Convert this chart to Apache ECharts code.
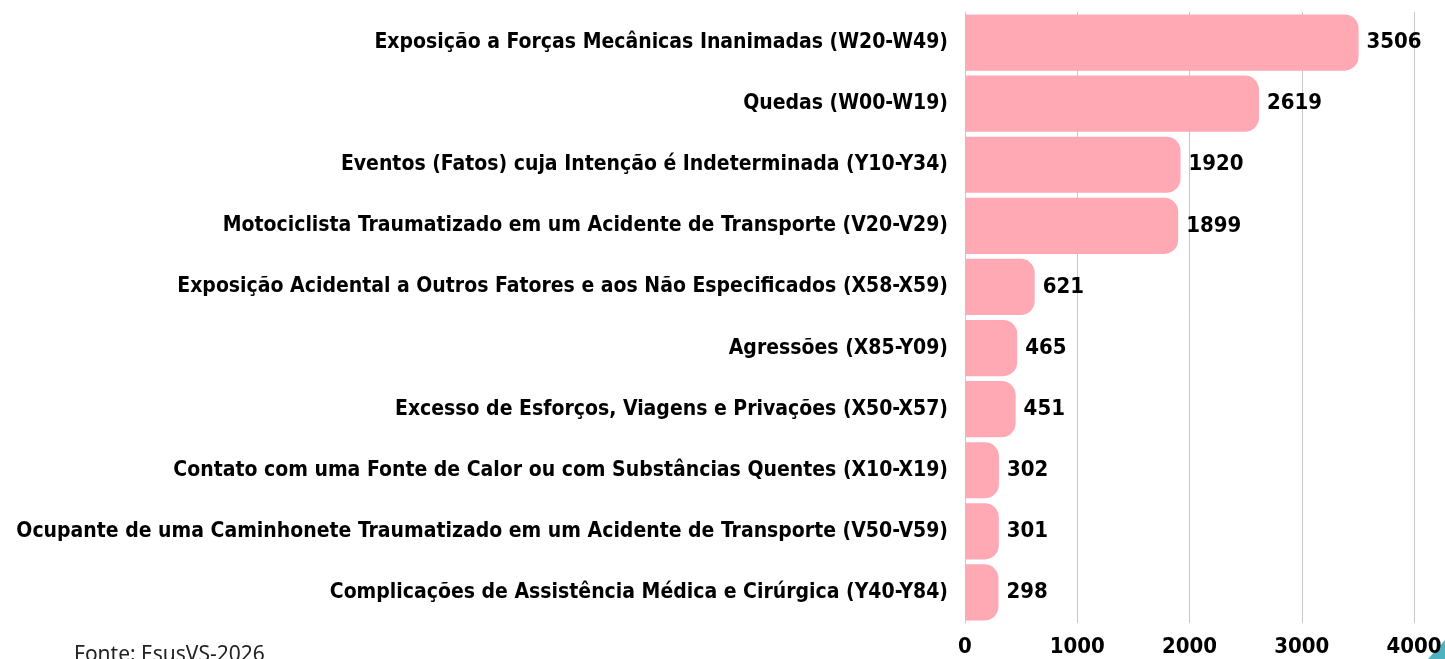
<!DOCTYPE html>
<html>
<head>
<meta charset="utf-8">
<script src="https://cdn.jsdelivr.net/npm/echarts@6/dist/echarts.min.js"></script>
<style>
    html, body { margin: 0; padding: 0; background: #fff; }
    #chart { width: 1445px; height: 659px; }
</style>
</head>
<body>
<div id="chart"></div>
<script>
// categorias (de baixo para cima, como o eixo y do echarts desenha)
var categories = [
    'Complicações de Assistência Médica e Cirúrgica (Y40-Y84)',
    'Ocupante de uma Caminhonete Traumatizado em um Acidente de Transporte (V50-V59)',
    'Contato com uma Fonte de Calor ou com Substâncias Quentes (X10-X19)',
    'Excesso de Esforços, Viagens e Privações (X50-X57)',
    'Agressões (X85-Y09)',
    'Exposição Acidental a Outros Fatores e aos Não Especificados (X58-X59)',
    'Motociclista Traumatizado em um Acidente de Transporte (V20-V29)',
    'Eventos (Fatos) cuja Intenção é Indeterminada (Y10-Y34)',
    'Quedas (W00-W19)',
    'Exposição a Forças Mecânicas Inanimadas (W20-W49)'
];
var values = [298, 301, 302, 451, 465, 621, 1899, 1920, 2619, 3506];
var xTicks = [0, 1000, 2000, 3000, 4000];

var FONT = '"Liberation Sans Narrow", "DejaVu Sans Condensed", sans-serif';

var myChart = echarts.init(document.getElementById('chart'));
var option = {
    animation: false,
    grid: {
        left: 965,
        right: 31,
        top: 12,
        bottom: 36,
        containLabel: false,
        outerBoundsMode: 'none'
    },
    xAxis: {
        type: 'value',
        min: xTicks[0],
        max: xTicks[xTicks.length - 1],
        interval: 1000,
        axisLine: { show: false },
        axisTick: { show: false },
        splitLine: { show: true, lineStyle: { color: '#c8c8c8', width: 1 } },
        axisLabel: {
            color: '#000',
            fontFamily: FONT,
            fontWeight: 'bold',
            fontSize: 22,
            margin: 13,
            formatter: function (v) { return String(v); }
        }
    },
    yAxis: {
        type: 'category',
        data: categories,
        axisLine: { show: true, lineStyle: { color: '#c8c8c8' } },
        axisTick: { show: false },
        axisLabel: {
            color: '#000',
            fontFamily: FONT,
            fontWeight: 'bold',
            fontSize: 21,
            margin: 17
        }
    },
    series: [{
        type: 'bar',
        data: values,
        barCategoryGap: '8%',
        itemStyle: {
            color: '#ffa9b5',
            borderRadius: [0, 14, 14, 0]
        },
        label: {
            show: true,
            position: 'right',
            distance: 8,
            color: '#000',
            fontFamily: FONT,
            fontWeight: 'bold',
            fontSize: 22
        }
    }],
    graphic: [{
        type: 'text',
        left: 74,
        top: 645,
        style: {
            text: 'Fonte: EsusVS-2026',
            fill: '#222',
            font: '21px "Noto Sans", sans-serif'
        }
    }, {
        type: 'polygon',
        shape: { points: [[1445, 640], [1445, 659], [1428, 659]] },
        style: { fill: '#4fb2c0' }
    }]
};
myChart.setOption(option, true);
</script>
</body>
</html>
